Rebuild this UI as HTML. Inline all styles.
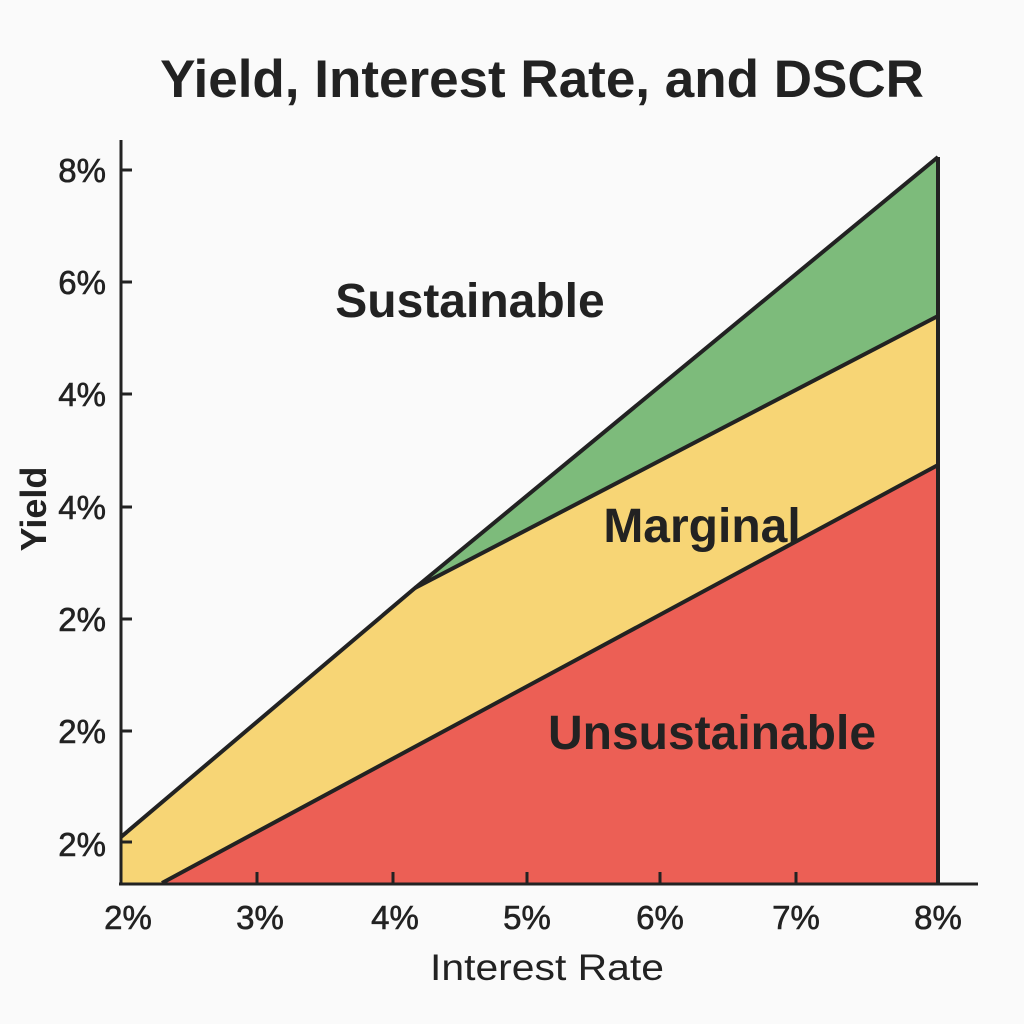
<!DOCTYPE html>
<html><head><style>
body{margin:0;background:#fafafa}
svg{display:block}
text{font-family:"Liberation Sans",sans-serif;fill:#222}
</style></head><body>
<svg width="1024" height="1024" viewBox="0 0 1024 1024">
<rect width="1024" height="1024" fill="#fafafa"/>
<text x="542" y="97" text-anchor="middle" font-size="53" font-weight="bold">Yield, Interest Rate, and DSCR</text>
<polygon points="415,588 938,157 938,316" fill="#7dbb7b"/>
<polygon points="121,837 415,588 938,316 938,465 162,883 121,883" fill="#f7d575"/>
<polygon points="162,883 938,465 938,883" fill="#ec5f55"/>
<g stroke="#222" stroke-width="4" fill="none" stroke-linejoin="round">
<polyline points="121,837 415,588 938,157"/>
<line x1="415" y1="588" x2="938" y2="316"/>
<line x1="162" y1="883" x2="938" y2="465"/>
<line x1="938" y1="157" x2="938" y2="883"/>
</g>
<g stroke="#222" stroke-width="3">
<line x1="121" y1="140" x2="121" y2="885"/>
<line x1="119" y1="884" x2="978" y2="884"/>
<line x1="121" y1="170" x2="132" y2="170"/>
<line x1="121" y1="282" x2="132" y2="282"/>
<line x1="121" y1="394" x2="132" y2="394"/>
<line x1="121" y1="507" x2="132" y2="507"/>
<line x1="121" y1="619" x2="132" y2="619"/>
<line x1="121" y1="731" x2="132" y2="731"/>
<line x1="121" y1="842" x2="132" y2="842"/>
<line x1="257" y1="872" x2="257" y2="884"/>
<line x1="393" y1="872" x2="393" y2="884"/>
<line x1="527" y1="872" x2="527" y2="884"/>
<line x1="660" y1="872" x2="660" y2="884"/>
<line x1="796" y1="872" x2="796" y2="884"/>
</g>
<g font-size="33" text-anchor="end" font-weight="500" stroke="#222" stroke-width="0.6">
<text x="106" y="182">8%</text>
<text x="106" y="294">6%</text>
<text x="106" y="406">4%</text>
<text x="106" y="519">4%</text>
<text x="106" y="631">2%</text>
<text x="106" y="743">2%</text>
<text x="106" y="856">2%</text>
</g>
<g font-size="33" text-anchor="middle" stroke="#222" stroke-width="0.6">
<text x="128" y="929">2%</text>
<text x="260" y="929">3%</text>
<text x="395" y="929">4%</text>
<text x="527" y="929">5%</text>
<text x="660" y="929">6%</text>
<text x="796" y="929">7%</text>
<text x="938" y="929">8%</text>
</g>
<text x="547" y="980" text-anchor="middle" font-size="37" textLength="234" lengthAdjust="spacingAndGlyphs">Interest Rate</text>
<text transform="translate(46,509) rotate(-90)" text-anchor="middle" font-size="36" font-weight="bold">Yield</text>
<text x="470" y="317" text-anchor="middle" font-size="48" font-weight="bold">Sustainable</text>
<text x="702" y="542" text-anchor="middle" font-size="48" font-weight="bold">Marginal</text>
<text x="712" y="749" text-anchor="middle" font-size="48" font-weight="bold">Unsustainable</text>
</svg>
</body></html>
